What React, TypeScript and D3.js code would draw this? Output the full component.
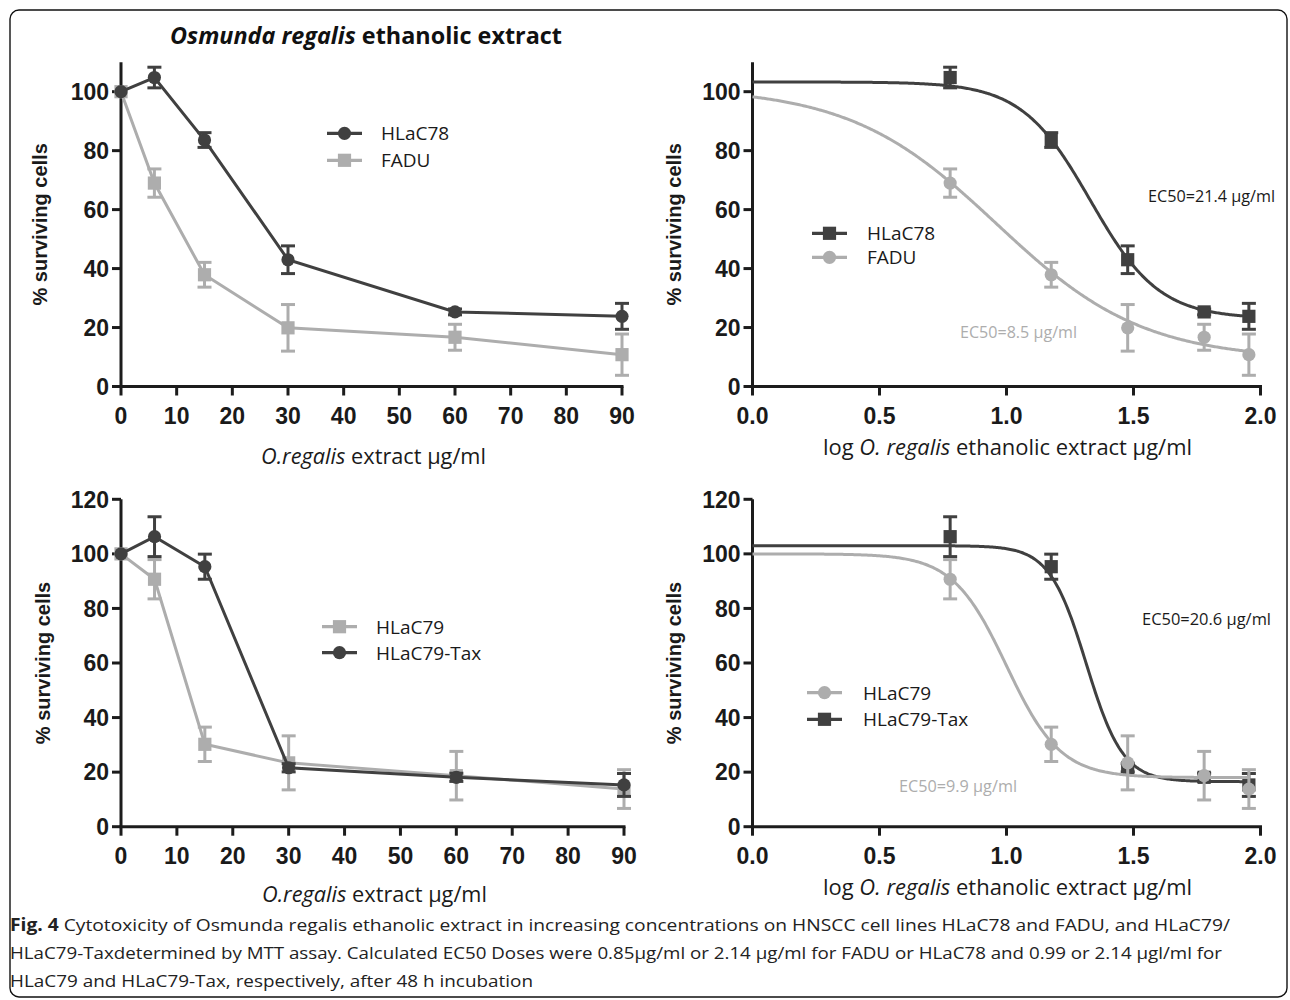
import React from 'react';
import * as d3 from 'd3';

// doses (µg/ml) and % surviving cells
const conc = [0, 6, 15, 30, 60, 90];
const hlac78 = [100, 104.8, 83.6, 43, 25.3, 23.8];
const hlac78Err = [0, 3.5, 2.5, 4.7, 1, 4.4];
const fadu = [100, 69, 37.9, 19.9, 16.7, 10.8];
const faduErr = [0, 4.8, 4.2, 7.9, 4.4, 7];
const hlac79 = [100, 90.7, 30.2, 23.4, 18.7, 13.8];
const hlac79Err = [0, 7.2, 6.3, 9.9, 8.9, 7.1];
const hlac79Tax = [100, 106.3, 95.3, 21.6, 18.1, 15.3];
const hlac79TaxErr = [0, 7.3, 4.6, 1.5, 1.5, 4.2];

// fitted dose-response curves: [top, bottom, logEC50, hill]
const fitHLaC78 = [103.3, 23, 1.33, 3.2];
const fitFADU = [101.5, 9, 0.96, 1.5];
const fitHLaC79 = [100, 18, 1.0, 4.1];
const fitHLaC79Tax = [103, 16.5, 1.314, 6];

const linTicks = [0, 10, 20, 30, 40, 50, 60, 70, 80, 90];
const logTicks = [0, 0.5, 1, 1.5, 2];
const yTicksTop = [0, 20, 40, 60, 80, 100];
const yTicksBottom = [0, 20, 40, 60, 80, 100, 120];

const DARK = '#404040';
const LIGHT = '#adadad';
const AXIS = '#1c1c1c';
const BOLD_FONT = '"Liberation Sans", Arial, sans-serif';
const TEXT_FONT = '"Open Sans", sans-serif';

const fourPL = (p, x) => p[1] + (p[0] - p[1]) / (1 + Math.pow(10, (x - p[2]) * p[3]));

function Marker({ shape, x, y, color }) {
  if (shape === 'circle') return <circle cx={x} cy={y} r={6.6} fill={color} />;
  return <rect x={x - 6.6} y={y - 6.6} width={13.2} height={13.2} fill={color} />;
}

function Panel({ xDomain, xRange, yDomain, yRange, xTicks, yTicks, xFmt, log, series, legend, yTitleX, xTitle, notes }) {
  const x = d3.scaleLinear().domain(xDomain).range(xRange);
  const y = d3.scaleLinear().domain(yDomain).range(yRange);
  const y0 = y(0);

  const drawSeries = (s) => {
    const pts = conc
      .map((c, i) => ({ c, v: s.values[i], e: s.errors[i] }))
      .filter((d) => !log || d.c > 0)
      .map((d) => ({ ...d, px: x(log ? Math.log10(d.c) : d.c) }));
    let path;
    if (log) {
      const samples = d3.range(0, Math.log10(90) + 0.001, 0.005);
      path = d3.line().x((t) => x(t)).y((t) => y(fourPL(s.fit, t)))(samples);
    } else {
      path = d3.line().x((d) => d.px).y((d) => y(d.v))(pts);
    }
    return (
      <g key={s.name}>
        <path d={path} fill="none" stroke={s.color} strokeWidth={3} />
        {pts.map((d, i) =>
          d.e > 0 ? (
            <g key={i} stroke={s.color} strokeWidth={3}>
              <line x1={d.px} x2={d.px} y1={y(d.v - d.e)} y2={y(d.v + d.e)} />
              <line x1={d.px - 7} x2={d.px + 7} y1={y(d.v - d.e)} y2={y(d.v - d.e)} />
              <line x1={d.px - 7} x2={d.px + 7} y1={y(d.v + d.e)} y2={y(d.v + d.e)} />
            </g>
          ) : null
        )}
        {pts.map((d, i) => (
          <Marker key={'m' + i} shape={s.marker} x={d.px} y={y(d.v)} color={s.color} />
        ))}
      </g>
    );
  };

  const yMid = (yRange[0] + y(yTicks[yTicks.length - 1] === 120 ? 120 : 110)) / 2;

  return (
    <g>
      {/* axes */}
      <g stroke={AXIS} strokeWidth={3}>
        <line x1={xRange[0]} x2={xRange[0]} y1={y0} y2={yRange[1]} />
        <line x1={xRange[0]} x2={xRange[1]} y1={y0} y2={y0} strokeLinecap="square" />
        {yTicks.map((t) => (
          <line key={'yt' + t} x1={xRange[0] - 9} x2={xRange[0]} y1={y(t)} y2={y(t)} />
        ))}
        {xTicks.map((t) => (
          <line key={'xt' + t} x1={x(t)} x2={x(t)} y1={y0} y2={y0 + 9} />
        ))}
      </g>
      <g fontFamily={BOLD_FONT} fontWeight="bold" fontSize={23} fill="#1a1a1a">
        {yTicks.map((t) => (
          <text key={'yl' + t} x={xRange[0] - 12} y={y(t) + 8.2} textAnchor="end">
            {t}
          </text>
        ))}
        {xTicks.map((t) => (
          <text key={'xl' + t} x={x(t)} y={y0 + 37} textAnchor="middle">
            {xFmt(t)}
          </text>
        ))}
      </g>
      <text
        transform={`translate(${yTitleX},${yMid}) rotate(-90)`}
        textAnchor="middle"
        fontFamily={BOLD_FONT}
        fontWeight="bold"
        fontSize={20}
        fill="#1a1a1a"
      >
        % surviving cells
      </text>
      {xTitle}
      {series.map(drawSeries)}
      {/* legend */}
      {legend.items.map((s, i) => {
        const ly = legend.y + i * legend.gap;
        return (
          <g key={'lg' + i}>
            <line x1={legend.x} x2={legend.x + 35} y1={ly} y2={ly} stroke={s.color} strokeWidth={3.3} />
            <Marker shape={s.marker} x={legend.x + 17.5} y={ly} color={s.color} />
            <text x={legend.tx} y={ly + 6.8} fontFamily={TEXT_FONT} fontSize={19} fill="#1a1a1a">
              {s.name}
            </text>
          </g>
        );
      })}
      {notes}
    </g>
  );
}

function XTitleLin({ cx, by }) {
  return (
    <text
      x={cx - 112.5}
      y={by}
      textLength={225}
      lengthAdjust="spacingAndGlyphs"
      fontFamily={TEXT_FONT}
      fontSize={21.5}
      fill="#1a1a1a"
    >
      <tspan fontStyle="italic">O.regalis</tspan> extract µg/ml
    </text>
  );
}

function XTitleLog({ cx, by }) {
  return (
    <text
      x={cx - 184.5}
      y={by}
      textLength={369}
      lengthAdjust="spacingAndGlyphs"
      fontFamily={TEXT_FONT}
      fontSize={21.5}
      fill="#1a1a1a"
    >
      log <tspan fontStyle="italic">O. regalis</tspan> ethanolic extract µg/ml
    </text>
  );
}

function Note({ x, y, color, w, children }) {
  return (
    <text x={x} y={y} textLength={w} lengthAdjust="spacingAndGlyphs" fontFamily={TEXT_FONT} fontSize={16} fill={color}>
      {children}
    </text>
  );
}

export default function App() {
  const s78 = { name: 'HLaC78', values: hlac78, errors: hlac78Err, color: DARK, fit: fitHLaC78 };
  const sFadu = { name: 'FADU', values: fadu, errors: faduErr, color: LIGHT, fit: fitFADU };
  const s79 = { name: 'HLaC79', values: hlac79, errors: hlac79Err, color: LIGHT, fit: fitHLaC79 };
  const s79t = { name: 'HLaC79-Tax', values: hlac79Tax, errors: hlac79TaxErr, color: DARK, fit: fitHLaC79Tax };
  const fmtLog = d3.format('.1f');
  const fmtLin = (t) => String(t);

  const tl78 = { ...s78, marker: 'circle' };
  const tlFadu = { ...sFadu, marker: 'square' };
  const tr78 = { ...s78, marker: 'square' };
  const trFadu = { ...sFadu, marker: 'circle' };
  const bl79 = { ...s79, marker: 'square' };
  const bl79t = { ...s79t, marker: 'circle' };
  const br79 = { ...s79, marker: 'circle' };
  const br79t = { ...s79t, marker: 'square' };

  return (
    <svg
      width={1290}
      height={1000}
      style={{ position: 'absolute', left: 0, top: 0, background: '#fff' }}
    >
      <rect x={10} y={10} width={1277} height={987} rx={9} fill="none" stroke="#111" strokeWidth={1.4} />

      <text
        x={170}
        y={44}
        textLength={392}
        lengthAdjust="spacingAndGlyphs"
        fontFamily={TEXT_FONT}
        fontWeight="bold"
        fontSize={22.5}
        fill="#111"
      >
        <tspan fontStyle="italic">Osmunda regalis</tspan> ethanolic extract
      </text>

      <Panel
        xDomain={[0, 90]}
        xRange={[121, 622]}
        yDomain={[0, 110]}
        yRange={[386.5, 62.2]}
        xTicks={linTicks}
        yTicks={yTicksTop}
        xFmt={fmtLin}
        log={false}
        series={[tlFadu, tl78]}
        legend={{ x: 327, tx: 381, y: 133.3, gap: 27, items: [tl78, tlFadu] }}
        yTitleX={47}
        xTitle={<XTitleLin cx={373.5} by={464} />}
        notes={null}
      />

      <Panel
        xDomain={[0, 2]}
        xRange={[752.5, 1260.5]}
        yDomain={[0, 110]}
        yRange={[386.5, 62.2]}
        xTicks={logTicks}
        yTicks={yTicksTop}
        xFmt={fmtLog}
        log={true}
        series={[trFadu, tr78]}
        legend={{ x: 812, tx: 867, y: 233.3, gap: 24, items: [tr78, trFadu] }}
        yTitleX={681}
        xTitle={<XTitleLog cx={1007.5} by={455} />}
        notes={
          <g>
            <Note x={1148} y={202} w={127} color="#1a1a1a">EC50=21.4 µg/ml</Note>
            <Note x={960} y={338} w={117} color={LIGHT}>EC50=8.5 µg/ml</Note>
          </g>
        }
      />

      <Panel
        xDomain={[0, 90]}
        xRange={[121, 624]}
        yDomain={[0, 120]}
        yRange={[826.7, 499.3]}
        xTicks={linTicks}
        yTicks={yTicksBottom}
        xFmt={fmtLin}
        log={false}
        series={[bl79, bl79t]}
        legend={{ x: 322, tx: 376, y: 626.7, gap: 26, items: [bl79, bl79t] }}
        yTitleX={49.5}
        xTitle={<XTitleLin cx={374.5} by={902} />}
        notes={null}
      />

      <Panel
        xDomain={[0, 2]}
        xRange={[752.5, 1260.5]}
        yDomain={[0, 120]}
        yRange={[826.7, 499.3]}
        xTicks={logTicks}
        yTicks={yTicksBottom}
        xFmt={fmtLog}
        log={true}
        series={[br79t, br79]}
        legend={{ x: 807, tx: 863, y: 692.7, gap: 26.6, items: [br79, br79t] }}
        yTitleX={681}
        xTitle={<XTitleLog cx={1007.5} by={895} />}
        notes={
          <g>
            <Note x={1142} y={625} w={129} color="#1a1a1a">EC50=20.6 µg/ml</Note>
            <Note x={899} y={792} w={118} color={LIGHT}>EC50=9.9 µg/ml</Note>
          </g>
        }
      />

      <g fontFamily={TEXT_FONT} fontSize={17} fill="#222">
        <text x={10} y={931} textLength={1220} lengthAdjust="spacingAndGlyphs">
          <tspan fontWeight="bold">Fig. 4</tspan> Cytotoxicity of Osmunda regalis ethanolic extract in increasing
          concentrations on HNSCC cell lines HLaC78 and FADU, and HLaC79/
        </text>
        <text x={10} y={959} textLength={1212} lengthAdjust="spacingAndGlyphs">
          HLaC79-Taxdetermined by MTT assay. Calculated EC50 Doses were 0.85μg/ml or 2.14 μg/ml for FADU or HLaC78 and
          0.99 or 2.14 μgl/ml for
        </text>
        <text x={10} y={987} textLength={523} lengthAdjust="spacingAndGlyphs">
          HLaC79 and HLaC79-Tax, respectively, after 48 h incubation
        </text>
      </g>
    </svg>
  );
}
